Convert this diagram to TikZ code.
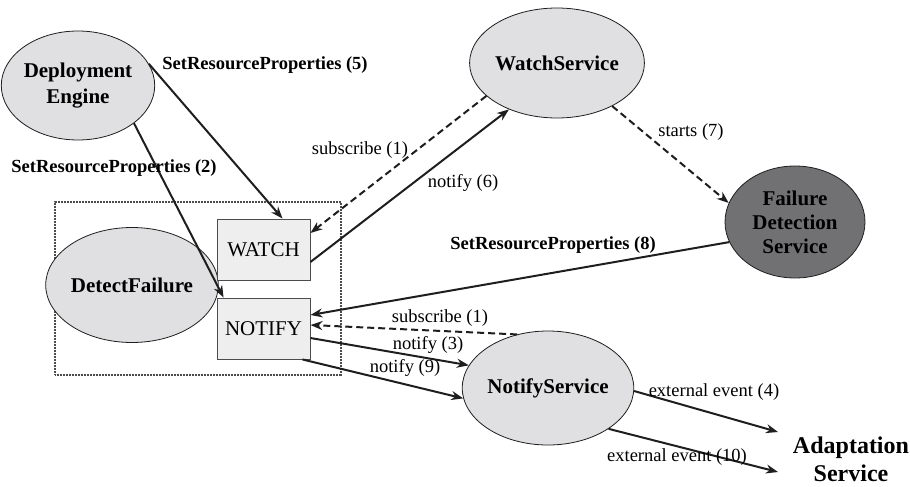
\documentclass[tikz,border=0pt]{standalone}
\usepackage{fontspec}
\setmainfont{Liberation Serif}
\usetikzlibrary{shapes.geometric,arrows.meta,calc}
\definecolor{ellfill}{HTML}{E0E0E2}
\definecolor{boxfill}{HTML}{EEEEEE}
\definecolor{darkfill}{HTML}{717174}
\definecolor{ink}{HTML}{1E1E1E}
\begin{document}
\begin{tikzpicture}[x=1pt,y=-1pt,
 ell/.style={ellipse,draw=ink,line width=0.8pt,fill=ellfill,inner sep=0pt,
   font=\fontsize{21}{25}\selectfont\bfseries,align=center},
 box/.style={rectangle,draw=black!70,line width=0.9pt,fill=boxfill,inner sep=0pt,
   minimum width=93pt,minimum height=61pt,font=\fontsize{21}{25}\selectfont},
 conn/.style={line width=2pt,draw=ink,-{Stealth[length=12pt,width=9pt]}},
 dconn/.style={conn,dash pattern=on 7pt off 4pt},
 lbl/.style={font=\fontsize{18.5}{22}\selectfont,inner sep=0pt},
 blbl/.style={font=\fontsize{18.5}{22}\selectfont\bfseries,inner sep=0pt}]
\useasboundingbox (0,0) rectangle (910,487);

% container
\node[draw=black!70,line width=1.6pt,dash pattern=on 1pt off 0.5pt,
      minimum width=286pt,minimum height=173pt,inner sep=0pt] (grp) at (198,288.5) {};

% nodes
\node[ell,minimum width=142pt,minimum height=109pt,font=\fontsize{21}{26}\selectfont\bfseries] (DE) at (78,85.5) {Deployment\\Engine};
\node[ell,minimum width=140pt,minimum height=110pt] (WS) at (557,63) {WatchService};
\node[ell,fill=darkfill,minimum width=140pt,minimum height=112pt,font=\fontsize{21}{24}\selectfont\bfseries] (FDS) at (795,222) {Failure\\Detection\\Service};
\node[ell,minimum width=140pt,minimum height=115pt] (DF) at (132,285) {DetectFailure};
\node[ell,minimum width=138pt,minimum height=114pt] (NS) at (548,388) {NotifyService};
\node[box] (WATCH) at (263.5,249.5) {WATCH};
\node[box] (NOTIFY) at (263.5,328.5) {NOTIFY};
\node[font=\fontsize{24}{28}\selectfont\bfseries,align=center,inner sep=0pt] (AS) at (851,459) {Adaptation\\Service};
\coordinate (a4) at (778,432);
\coordinate (a10) at (778,472);

% connectors
\draw[conn] (DE.17) -- ([xshift=19pt]WATCH.north);
\draw[conn] (DE.-34) -- ([xshift=7pt]NOTIFY.north west);
\draw[conn] ([yshift=-12.5pt]WATCH.east) -- (WS.224);
\draw[dconn] (WS.205) -- ([yshift=16.5pt]WATCH.east);
\draw[dconn] (WS.-38) -- (FDS.164);
\draw[conn] (FDS.197) -- ([yshift=13.5pt]NOTIFY.east);
\draw[dconn] (NS.120) -- ([yshift=3.5pt]NOTIFY.east);
\draw[conn] ([yshift=-9.5pt]NOTIFY.east) -- (NS.164);
\draw[conn] ([xshift=-8pt]NOTIFY.south east) -- (NS.187);
\draw[conn] (NS.-2) -- (a4);
\draw[conn] (NS.-34) -- (a10);

% labels
\node[blbl] (l5) at (265,65) {SetResourceProperties (5)};
\node[blbl] (l2) at (114,168) {SetResourceProperties (2)};
\node[lbl] (l1a) at (360,150) {subscribe (1)};
\node[lbl] (l6) at (463,183) {notify (6)};
\node[lbl] (l7) at (691,132) {starts (7)};
\node[blbl] (l8) at (553,245) {SetResourceProperties (8)};
\node[lbl] (l1b) at (440,318) {subscribe (1)};
\node[lbl] (l3) at (428,345) {notify (3)};
\node[lbl] (l9) at (405,368) {notify (9)};
\node[lbl] (l4) at (714,392) {external event (4)};
\node[lbl] (l10) at (677,457) {external event (10)};
\end{tikzpicture}
\end{document}
